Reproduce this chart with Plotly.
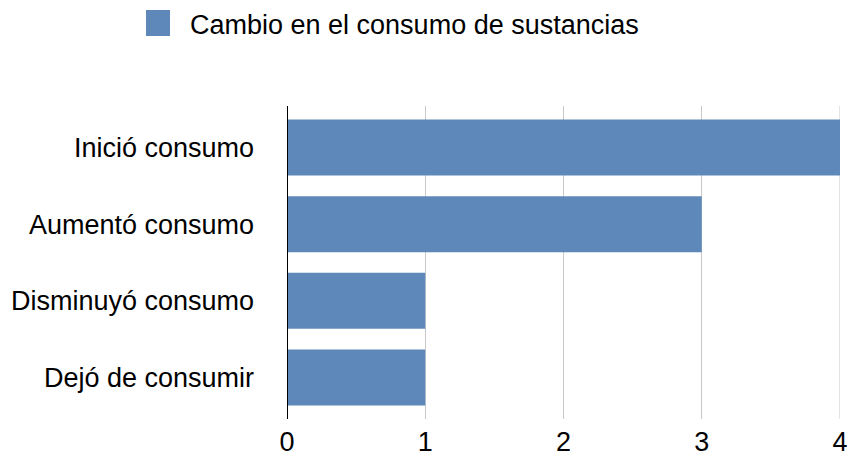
import plotly.graph_objects as go

categories = ["Dejó de consumir", "Disminuyó consumo", "Aumentó consumo", "Inició consumo"]
values = [1, 1, 3, 4]
series_name = "Cambio en el consumo de sustancias"
x_ticks = [0, 1, 2, 3, 4]

W, H = 847, 458
L, R, T, B = 287, 7, 106, 39
FONT = "Liberation Sans, Arial, sans-serif"
BAR = "#5e88ba"

fig = go.Figure()
fig.add_trace(go.Bar(
    y=categories, x=values, orientation="h", name=series_name,
    marker=dict(color=BAR, line=dict(width=0)), showlegend=False,
))

pw = W - L - R
ph = H - T - B

def px_x(x):
    return (x - L) / pw

def px_y(y):
    return (H - B - y) / ph

fig.add_shape(type="rect", xref="paper", yref="paper",
              x0=px_x(146), x1=px_x(170), y0=px_y(36), y1=px_y(10),
              fillcolor=BAR, line=dict(width=0))
fig.add_annotation(xref="paper", yref="paper", x=px_x(188), y=px_y(25),
                   xanchor="left", yanchor="middle", showarrow=False,
                   text=series_name, font=dict(family=FONT, size=27, color="#000"))

fig.update_layout(
    width=W, height=H,
    margin=dict(l=L, r=R, t=T, b=B, pad=0),
    paper_bgcolor="white", plot_bgcolor="white",
    bargap=0.27,
    font=dict(family=FONT, size=27, color="#000"),
    xaxis=dict(range=[0, 4], tickvals=x_ticks, showgrid=True, gridcolor="#c8c8c8",
               gridwidth=1, zeroline=False, showline=False, ticks="",
               ticklabelstandoff=4, ticklabeloverflow="allow", automargin=False,
               fixedrange=True),
    yaxis=dict(type="category", categoryorder="array", categoryarray=categories,
               range=[-0.54, 3.54], showgrid=False, zeroline=False, automargin=False,
               showline=False, ticks="", ticklabelstandoff=32),
)
fig.add_shape(type="line", xref="x", yref="paper", x0=x_ticks[-1], x1=x_ticks[-1],
              y0=0, y1=1, line=dict(color="#c8c8c8", width=1), layer="below")
fig.add_shape(type="line", xref="x", yref="paper", x0=0, x1=0, y0=0, y1=1,
              line=dict(color="black", width=2), layer="above")

fig.write_html("out.html")
